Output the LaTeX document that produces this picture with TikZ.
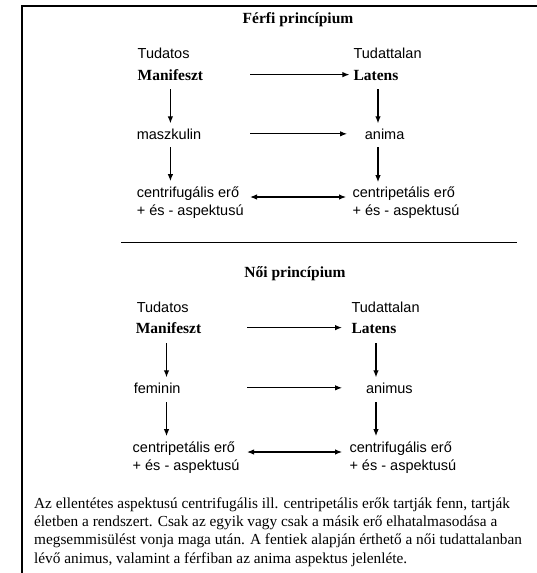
\documentclass[tikz,border=0pt]{standalone}
\usepackage{fontspec}
\setmainfont{Liberation Serif}
\newfontfamily\labelfont{Liberation Sans}
\usetikzlibrary{arrows.meta}

\tikzset{
  word/.style={font=\labelfont\fontsize{14.5}{16}\selectfont, anchor=base west, inner sep=0pt},
  keyword/.style={font=\fontsize{15.5}{17}\selectfont\bfseries, anchor=base west, inner sep=0pt},
  heading/.style={font=\fontsize{15.5}{17}\selectfont\bfseries, anchor=base, inner sep=0pt},
  arr/.style={-{Latex[length=7pt,width=5.5pt]}, line width=1.1pt},
  dblarr/.style={{Latex[length=7pt,width=5.5pt]}-{Latex[length=7pt,width=5.5pt]}, line width=1.1pt},
}

\begin{document}
\begin{tikzpicture}[x=1pt, y=-1pt]
    \useasboundingbox (0,0) rectangle (537,573);
    \draw[line width=1.3pt] (537,6) -- (22,6) -- (22,573);

    % ferfi principium
    \node[heading] at (298,23) (ferfi) {Férfi princípium};
    \node[word] at (137.5,58) (tud1) {Tudatos};
    \node[keyword] at (137.5,80) (man1) {Manifeszt};
    \node[word] at (353.4,58) (tudt1) {Tudattalan};
    \node[keyword] at (353.4,80) (lat1) {Latens};
    \node[word] at (136.6,139) (masz) {maszkulin};
    \node[word] at (364.7,139) (anima) {anima};
    \node[word] at (136.6,197) (cfug1) {centrifugális erő};
    \node[word] at (136.6,215) (asp1) {+ és - aspektusú};
    \node[word] at (352.4,197) (cpet1) {centripetális erő};
    \node[word] at (352.4,215) (asp2) {+ és - aspektusú};

    \draw[arr, shorten <=46.7pt, shorten >=4pt] (man1.east) -- (man1.east -| lat1.west);
    \draw[arr, shorten <=48.7pt, shorten >=17.7pt] (masz.east) -- (masz.east -| anima.west);
    \draw[dblarr, shorten <=10.7pt, shorten >=6.4pt] (cfug1.base east) -- (cfug1.base east -| cpet1.base west);
    \draw[arr, shorten <=9pt, shorten >=5pt] (man1.south) -- (man1.south |- masz.north);
    \draw[arr, shorten <=8pt, shorten >=5pt] (man1.south |- masz.south) -- (man1.south |- cfug1.north);
    \draw[arr, shorten <=9pt, shorten >=5pt] ([xshift=2pt]lat1.south) -- ([xshift=2pt]lat1.south |- anima.north);
    \draw[arr, shorten <=8pt, shorten >=4pt] ([xshift=2pt]lat1.south |- anima.south) -- ([xshift=2pt]lat1.south |- cpet1.north);

    \draw[line width=1pt] (121,242) -- (517,242);

    % noi principium
    \node[heading] at (295,277) (noi) {Női princípium};
    \node[word] at (136.6,312) (tud2) {Tudatos};
    \node[keyword] at (135.6,333) (man2) {Manifeszt};
    \node[word] at (351.4,312) (tudt2) {Tudattalan};
    \node[keyword] at (351.4,333) (lat2) {Latens};
    \node[word] at (133.6,393) (fem) {feminin};
    \node[word] at (365.8,393) (animus) {animus};
    \node[word] at (132.5,452) (cpet2) {centripetális erő};
    \node[word] at (132.5,470) (asp3) {+ és - aspektusú};
    \node[word] at (349.3,452) (cfug2) {centrifugális erő};
    \node[word] at (349.3,470) (asp4) {+ és - aspektusú};

    \draw[arr, shorten <=45.6pt, shorten >=9.4pt] (man2.east) -- (man2.east -| lat2.west);
    \draw[arr, shorten <=66.3pt, shorten >=23.8pt] (fem.east) -- (fem.east -| animus.west);
    \draw[dblarr, shorten <=11.8pt, shorten >=7.3pt] (cpet2.base east) -- (cpet2.base east -| cfug2.base west);
    \draw[arr, shorten <=10pt, shorten >=5pt] ([xshift=-2pt]man2.south) -- ([xshift=-2pt]man2.south |- fem.north);
    \draw[arr, shorten <=9pt, shorten >=5pt] ([xshift=-2pt]man2.south |- fem.south) -- ([xshift=-2pt]man2.south |- cpet2.north);
    \draw[arr, shorten <=10pt, shorten >=5pt] ([xshift=2pt]lat2.south) -- ([xshift=2pt]lat2.south |- animus.north);
    \draw[arr, shorten <=9pt, shorten >=5pt] ([xshift=2pt]lat2.south |- animus.south) -- ([xshift=2pt]lat2.south |- cfug2.north);

    % last line's baseline
    \node[anchor=base west, align=left, inner sep=0pt, font=\fontsize{15.3}{18.2}\selectfont] at (34,563) (txt)
      {Az ellentétes aspektusú centrifugális ill. centripetális erők tartják fenn, tartják\\
       életben a rendszert. Csak az egyik vagy csak a másik erő elhatalmasodása a\\
       megsemmisülést vonja maga után. A fentiek alapján érthető a női tudattalanban\\
       lévő animus, valamint a férfiban az anima aspektus jelenléte.};
\end{tikzpicture}
\end{document}
